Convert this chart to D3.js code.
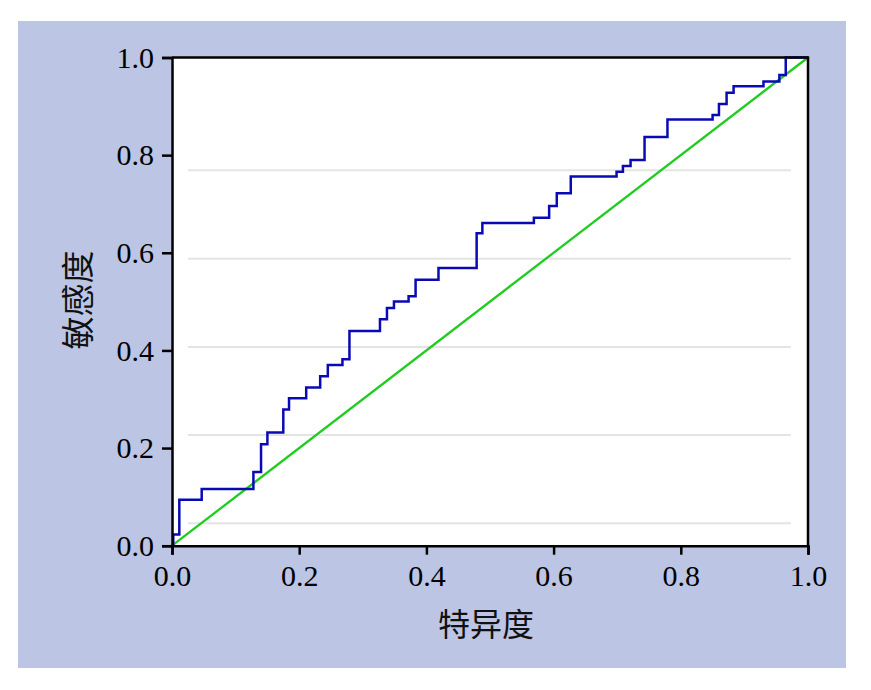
<!DOCTYPE html>
<html><head><meta charset="utf-8">
<script src="https://cdn.jsdelivr.net/npm/d3@7"></script>
<style>html,body{margin:0;padding:0;background:#fff;}svg{display:block;}</style>
</head><body>
<script>
// ROC step vertices (1 - specificity axis shown as 特异度, sensitivity 敏感度)
const fpr = [0, 0.002, 0.0115, 0.0467, 0.128, 0.140, 0.150, 0.175, 0.184, 0.211, 0.233, 0.245, 0.268, 0.279, 0.327, 0.338, 0.349, 0.372, 0.383, 0.419, 0.479, 0.488, 0.569, 0.593, 0.605, 0.627, 0.699, 0.709, 0.721, 0.743, 0.779, 0.850, 0.860, 0.872, 0.883, 0.930, 0.955, 0.965, 1.0];
const tpr = [0, 0.023, 0.094, 0.116, 0.151, 0.208, 0.232, 0.279, 0.302, 0.324, 0.347, 0.370, 0.382, 0.440, 0.464, 0.487, 0.500, 0.511, 0.545, 0.569, 0.640, 0.661, 0.672, 0.696, 0.722, 0.756, 0.766, 0.778, 0.790, 0.837, 0.873, 0.882, 0.905, 0.928, 0.941, 0.951, 0.964, 1.0, 1.0];
const refLine = [[0, 0], [1, 1]];
const tickValues = [0, 0.2, 0.4, 0.6, 0.8, 1.0];
const gridValues = [0.046, 0.227, 0.407, 0.588, 0.769];
const gridExtent = [0.025, 0.973];
const xTitle = "特异度";
const yTitle = "敏感度";

const W = 871, H = 690;
const svg = d3.select("body").append("svg").attr("width", W).attr("height", H);

svg.append("rect").attr("x", 18).attr("y", 21).attr("width", 828).attr("height", 647).attr("fill", "#bcc5e3");

const x = d3.scaleLinear().domain([0, 1]).range([172, 808]);
const y = d3.scaleLinear().domain([0, 1]).range([545.7, 57.5]);

svg.append("rect").attr("x", x(0)).attr("y", y(1)).attr("width", x(1) - x(0)).attr("height", y(0) - y(1)).attr("fill", "#fff");

// gridlines
svg.append("g").selectAll("line").data(gridValues).join("line")
  .attr("x1", x(gridExtent[0])).attr("x2", x(gridExtent[1]))
  .attr("y1", d => y(d)).attr("y2", d => y(d))
  .attr("stroke", "#e4e4e4").attr("stroke-width", 2);

// reference diagonal
svg.append("path").datum(refLine)
  .attr("d", d3.line().x(d => x(d[0])).y(d => y(d[1])))
  .attr("fill", "none").attr("stroke", "#1fcc1f").attr("stroke-width", 2.3);

// ROC curve
const pts = fpr.map((v, i) => [v, tpr[i]]);
svg.append("path").datum(pts)
  .attr("d", d3.line().x(d => x(d[0])).y(d => y(d[1])).curve(d3.curveStepAfter))
  .attr("fill", "none").attr("stroke", "#0a0ab4").attr("stroke-width", 2.5);

// frame top/right
svg.append("path")
  .attr("d", `M${x(0)},${y(1)}H${x(1)}V${y(0)}`)
  .attr("fill", "none").attr("stroke", "#000").attr("stroke-width", 2.5);

const fmt = d3.format(".1f");
const xAxis = svg.append("g").attr("transform", `translate(0,${y(0)})`)
  .call(d3.axisBottom(x).tickValues(tickValues).tickFormat(fmt).tickSize(9).tickPadding(10));
const yAxis = svg.append("g").attr("transform", `translate(${x(0)},0)`)
  .call(d3.axisLeft(y).tickValues(tickValues).tickFormat(fmt).tickSize(10).tickPadding(8));
[xAxis, yAxis].forEach(g => {
  g.select(".domain").attr("stroke", "#000").attr("stroke-width", 2.5);
  g.selectAll(".tick line").attr("stroke", "#000").attr("stroke-width", 2.5);
  g.selectAll(".tick text").attr("fill", "#000")
    .style("font-family", "'Liberation Serif','DejaVu Serif',serif").style("font-size", "30px");
});

svg.append("text").attr("x", 486).attr("y", 636).attr("text-anchor", "middle")
  .style("font-family", "'Noto Sans CJK SC',sans-serif").style("font-size", "32px").attr("fill", "#111")
  .text(xTitle);
svg.append("text").attr("transform", "translate(90,300) rotate(-90)").attr("text-anchor", "middle")
  .style("font-family", "'Noto Sans CJK SC',sans-serif").style("font-size", "33px").attr("fill", "#111")
  .text(yTitle);
</script>
</body></html>
